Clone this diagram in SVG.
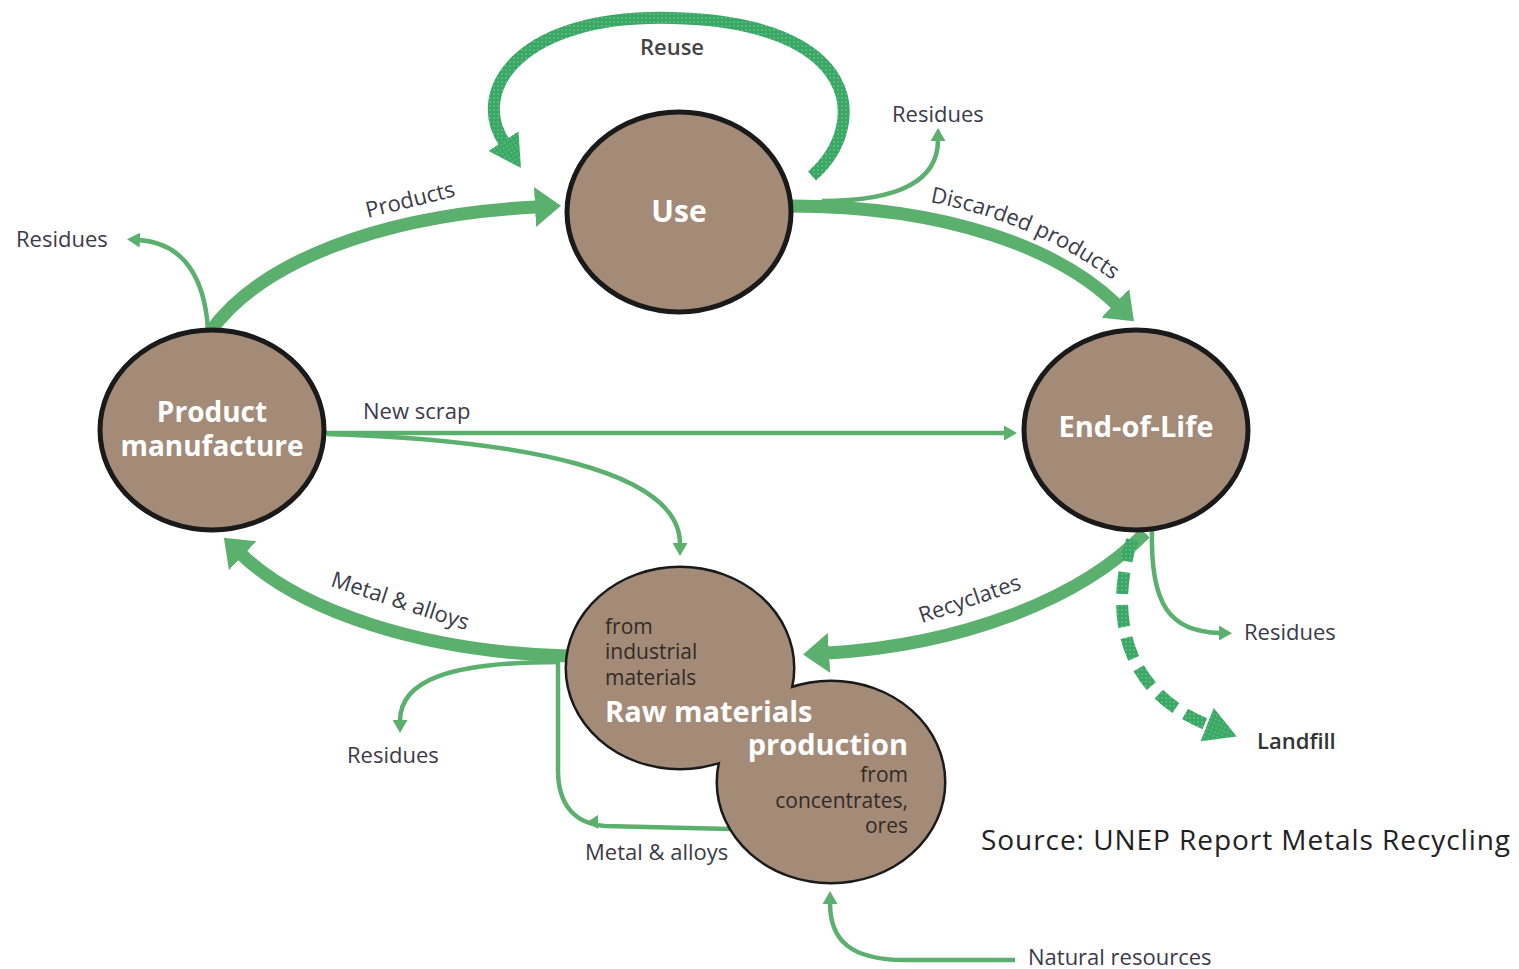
<svg xmlns="http://www.w3.org/2000/svg" width="1519" height="969" viewBox="0 0 1519 969">
<style>
.lbl{font-family:"Open Sans","Liberation Sans",sans-serif;font-size:22px;fill:#3b3b48}
.sm{font-family:"Open Sans","Liberation Sans",sans-serif;font-size:21px;fill:#332a26}
.node{fill:#a38b78}
.edge{fill:#a38b78;stroke:#1a1a1a;stroke-width:5}
.nt{font-family:"Open Sans","Liberation Sans",sans-serif;font-weight:bold;fill:#ffffff}
.thick{fill:none;stroke:#5bb06d;stroke-width:13}
.thin{fill:none;stroke:#5bb06d;stroke-width:4.5}
.dot{fill:none;stroke:url(#dots);stroke-width:12}
</style>
<defs>
<pattern id="dots" width="4" height="4" patternUnits="userSpaceOnUse">
<rect width="4" height="4" fill="#3aa865"/>
<circle cx="2" cy="2" r="0.8" fill="#7ccb9a"/>
</pattern>
<marker id="hThick" markerUnits="userSpaceOnUse" markerWidth="26" markerHeight="40" viewBox="0 0 26 40" refX="1" refY="20" orient="auto">
<path d="M0,0 L26,20 L0,40 z" fill="#5bb06d"/>
</marker>
<marker id="hThin" markerUnits="userSpaceOnUse" markerWidth="13" markerHeight="15" viewBox="0 0 13 15" refX="1" refY="7.5" orient="auto">
<path d="M0,0 L13,7.5 L0,15 z" fill="#5bb06d"/>
</marker>
<marker id="hDot" markerUnits="userSpaceOnUse" markerWidth="32" markerHeight="36" viewBox="0 0 32 36" refX="1" refY="18" orient="auto">
<path d="M0,0 L32,18 L0,36 z" fill="url(#dots)"/>
</marker>
</defs>
<rect width="1519" height="969" fill="#ffffff"/>

<g id="connectors">
<path class="dot" d="M812 176 C870 125 862 22 672 18 C520 14 470 90 504 142" marker-end="url(#hDot)"/>
<path class="thick" d="M210 332 C260 262 380 215 536 207" marker-end="url(#hThick)"/>
<path class="thin" d="M208 330 C205 280 185 243 139 240" marker-end="url(#hThin)"/>
<path class="thick" d="M790 206 C950 206 1060 250 1116 304" marker-end="url(#hThick)"/>
<path class="thin" d="M822 201 C900 201 938 180 938 140" marker-end="url(#hThin)"/>
<path class="thin" d="M325 433 L1005 433" marker-end="url(#hThin)"/>
<path class="thin" d="M327 434 C520 440 680 470 680 544" marker-end="url(#hThin)"/>
<path class="thick" d="M1145 533 C1080 600 960 645 828 653" marker-end="url(#hThick)"/>
<path class="dot" stroke-width="10" stroke-dasharray="22 11" d="M1132 540 C1110 610 1120 690 1208 725" marker-end="url(#hDot)"/>
<path class="thin" d="M1152 530 C1150 605 1170 632 1220 633" marker-end="url(#hThin)"/>
<path class="thick" d="M568 656 C420 652 300 610 242 555" marker-end="url(#hThick)"/>
<path class="thin" d="M560 662 C450 662 400 680 400 721" marker-end="url(#hThin)"/>
<path class="thin" d="M730 829 L605 826 C575 824 558 805 558 770 L558 658"/>
<path d="M587 822 L598 815 L598 829 z" fill="#5bb06d"/>
<path class="thin" d="M1015 960 L905 960 C850 960 830 940 830 903" marker-end="url(#hThin)"/>
</g>

<g id="use">
<ellipse class="edge" cx="679" cy="212" rx="112" ry="100" stroke-width="3"/>
<text class="nt" x="679" y="222" font-size="30" text-anchor="middle">Use</text>
</g>

<g id="product-manufacture">
<ellipse class="edge" cx="212" cy="430" rx="112" ry="100" stroke-width="3"/>
<text class="nt" x="212" y="422" font-size="28" text-anchor="middle">Product</text>
<text class="nt" x="212" y="456" font-size="28" text-anchor="middle">manufacture</text>
</g>

<g id="end-of-life">
<ellipse class="edge" cx="1136" cy="430" rx="112" ry="100" stroke-width="3"/>
<text class="nt" x="1136" y="437" font-size="29" text-anchor="middle">End-of-Life</text>
</g>

<g id="raw-materials">
<ellipse class="edge" cx="680" cy="668" rx="113" ry="100"/>
<ellipse class="edge" cx="831" cy="782" rx="113" ry="100"/>
<ellipse class="node" cx="680" cy="668" rx="113" ry="100"/>
<ellipse class="node" cx="831" cy="782" rx="113" ry="100"/>
<text class="sm" x="605" y="634">from</text>
<text class="sm" x="605" y="659">industrial</text>
<text class="sm" x="605" y="685">materials</text>
<text class="nt" x="605" y="722" font-size="29">Raw materials</text>
<text class="nt" x="908" y="755" font-size="29" text-anchor="end">production</text>
<text class="sm" x="908" y="782" text-anchor="end">from</text>
<text class="sm" x="908" y="808" text-anchor="end">concentrates,</text>
<text class="sm" x="908" y="833" text-anchor="end">ores</text>
</g>

<g id="labels">
<text class="lbl" x="672" y="55" text-anchor="middle" font-weight="600" style="fill:#444444">Reuse</text>
<text class="lbl" x="412" y="207" text-anchor="middle" transform="rotate(-14 412 207)">Products</text>
<text class="lbl" x="16" y="247">Residues</text>
<text class="lbl" x="892" y="122">Residues</text>
<path id="dpPath" d="M930 202 Q1035 222 1115 282" fill="none"/>
<text class="lbl"><textPath href="#dpPath">Discarded products</textPath></text>
<text class="lbl" x="363" y="419">New scrap</text>
<text class="lbl" x="972" y="606" text-anchor="middle" transform="rotate(-19 972 606)">Recyclates</text>
<text class="lbl" x="398" y="608" text-anchor="middle" transform="rotate(18 398 608)">Metal &amp; alloys</text>
<text class="lbl" x="1244" y="640">Residues</text>
<text class="lbl" x="1257" y="749" font-weight="600" style="fill:#333333" font-size="20">Landfill</text>
<text class="lbl" x="347" y="763">Residues</text>
<text class="lbl" x="585" y="860">Metal &amp; alloys</text>
<text class="lbl" x="1028" y="965">Natural resources</text>
<text x="981" y="850" font-family="'Open Sans','Liberation Sans',sans-serif" font-size="28" fill="#222222" textLength="529" lengthAdjust="spacing">Source: UNEP Report Metals Recycling</text>
</g>
</svg>
